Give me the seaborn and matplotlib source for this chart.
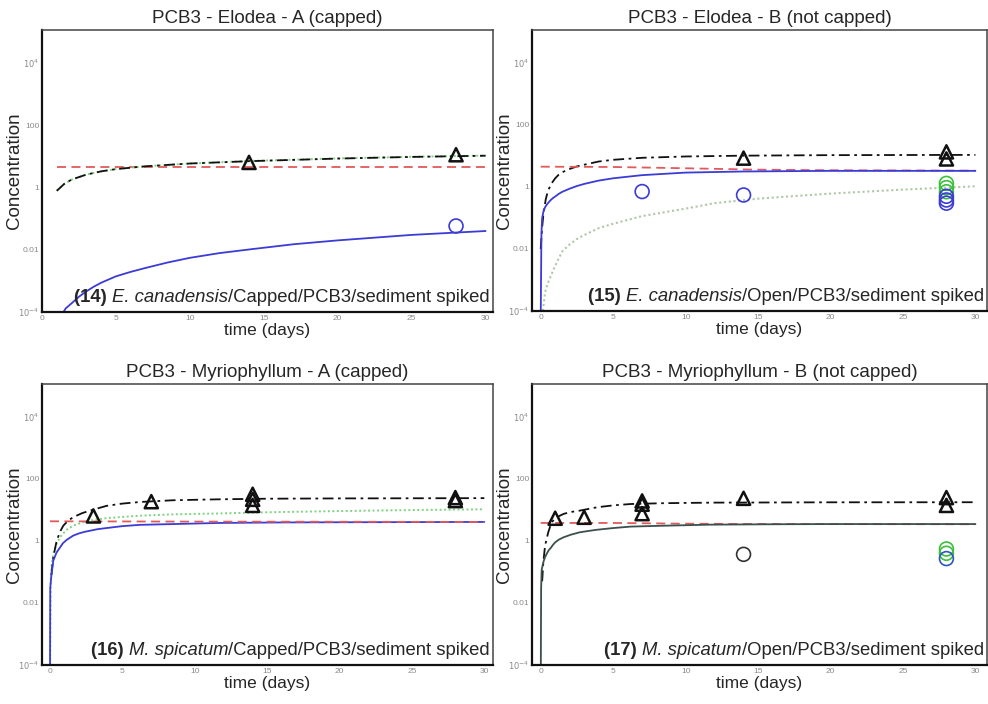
import matplotlib
matplotlib.use("Agg")
import matplotlib.pyplot as plt
import matplotlib.transforms as mtransforms
import seaborn as sns

sns.set_style("white")
plt.rcParams["font.family"] = ["Liberation Sans", "DejaVu Sans"]

# ---------------- data ----------------
# Panel 14: E. canadensis, capped
p14_water_t = [1.0, 30.0]
p14_water_c = [4.4, 4.4]
p14_sed_t = [1.0, 1.5, 2, 3, 4, 5, 7, 10, 14, 20, 25, 30]
p14_sed_c = [0.78, 1.3, 1.8, 2.6, 3.3, 3.9, 4.8, 5.9, 7.0, 8.5, 9.6, 10.5]
p14_pw_t = [1.0, 1.5, 2, 3, 4, 5, 7, 10, 14, 20, 25, 30]
p14_pw_c = [0.8, 1.3, 1.8, 2.6, 3.3, 3.9, 4.8, 5.9, 7.1, 8.6, 9.7, 10.6]
p14_plant_t = [1.4, 1.6, 2, 2.5, 3, 3.5, 4, 5, 6, 7, 8.5, 10, 12, 14, 17, 20, 25, 30]
p14_plant_c = [9e-5, 1.3e-4, 1.9e-4, 3.1e-4, 4.6e-4, 6.5e-4, 8.7e-4, 1.4e-3, 1.95e-3,
               2.6e-3, 3.9e-3, 5.5e-3, 7.8e-3, 0.0102, 0.015, 0.02, 0.03, 0.04]
p14_tri_t = [14, 28]
p14_tri_c = [6.4, 11.3]
p14_circ_blue_t = [28]
p14_circ_blue_c = [0.058]

# Panel 15: E. canadensis, open
p15_water_t = [0, 5, 10, 15, 20, 30]
p15_water_c = [4.5, 4.4, 4.0, 3.6, 3.45, 3.35]
p15_sed_t = [0.0, 0.1, 0.2, 0.35, 0.5, 0.75, 1, 1.25, 1.5, 2, 2.5, 3, 4, 5, 7, 10, 14, 20, 30]
p15_sed_c = [0.01, 0.05, 0.15, 0.4, 0.75, 1.3, 1.9, 2.5, 3.0, 3.8, 4.6, 5.2, 6.6, 7.5,
             8.7, 9.6, 10.2, 10.6, 10.8]
p15_pw_t = [0.08, 0.3, 0.5, 0.87, 1.2, 1.5, 2, 2.5, 3, 4, 5, 7, 10, 12, 15, 20, 25, 30]
p15_pw_c = [5e-5, 4e-4, 8e-4, 2.1e-3, 4.5e-3, 8.5e-3, 0.014, 0.021, 0.028, 0.047, 0.065,
            0.115, 0.2, 0.3, 0.42, 0.61, 0.82, 1.05]
p15_plant_t = [0.0, 0.05, 0.1, 0.2, 0.3, 0.4, 0.55, 0.7, 0.85, 1, 1.25, 1.5, 2, 2.5, 3, 4,
               5, 7, 10, 14, 20, 25, 30]
p15_plant_c = [5e-5, 0.03, 0.1, 0.17, 0.22, 0.26, 0.32, 0.38, 0.44, 0.49, 0.6, 0.7, 0.88,
               1.07, 1.25, 1.6, 1.9, 2.4, 2.9, 3.15, 3.3, 3.3, 3.3]
p15_tri_t = [14, 28, 28]
p15_tri_c = [8.5, 13.5, 8.0]
p15_circ_blue_t = [7, 14, 28, 28, 28]
p15_circ_blue_c = [0.71, 0.55, 0.5, 0.38, 0.3]
p15_circ_green_t = [28, 28, 28]
p15_circ_green_c = [1.3, 0.95, 0.7]

# Panel 16: M. spicatum, capped
p16_water_t = [0, 10, 30]
p16_water_c = [4.3, 4.2, 4.1]
p16_sed_t = [0.1, 0.23, 0.46, 0.7, 0.92, 1.25, 1.6, 2.2, 2.76, 3.9, 5, 6.2, 8.5, 11.7,
             15, 20, 30]
p16_sed_c = [0.08, 0.3, 1.0, 2.0, 3.1, 4.5, 5.8, 7.8, 9.5, 13.5, 16, 18, 20.5, 22, 23,
             23.5, 24]
p16_pw_t = [0.0, 0.05, 0.1, 0.23, 0.45, 0.69, 1.1, 1.6, 2.2, 2.76, 4, 6.2, 8.5, 11.7,
            15, 20, 25, 30]
p16_pw_c = [1e-5, 0.05, 0.15, 0.38, 0.8, 1.3, 2.2, 3.1, 3.9, 4.5, 5.5, 6.5, 7.2, 7.7,
            8.4, 9.2, 9.9, 10.5]
p16_plant_t = [0.0, 0.02, 0.1, 0.23, 0.45, 0.7, 0.9, 1.15, 1.6, 2.0, 2.4, 2.8, 3.3, 3.9,
               5, 6.2, 8.5, 11.7, 16, 20, 30]
p16_plant_c = [1e-5, 0.03, 0.08, 0.23, 0.42, 0.62, 0.85, 1.08, 1.48, 1.75, 1.97, 2.15,
               2.4, 2.6, 3.0, 3.3, 3.5, 3.8, 3.95, 4.0, 4.1]
p16_tri_t = [3, 7, 14, 14, 14, 28, 28]
p16_tri_c = [6.4, 18.5, 32, 22, 14, 25, 20]

# Panel 17: M. spicatum, open
p17_water_t = [0, 5, 10, 15, 30]
p17_water_c = [3.8, 3.8, 3.6, 3.5, 3.45]
p17_sed_t = [0.1, 0.18, 0.3, 0.52, 0.75, 1.1, 1.6, 2.1, 2.7, 3.9, 5, 6.2, 8.5, 12, 20, 30]
p17_sed_c = [0.05, 0.2, 0.7, 1.9, 4.0, 5.8, 7.5, 8.6, 9.5, 12.2, 14.0, 15.5, 16.5, 17.2,
             17.6, 17.7]
p17_plant_t = [0.0, 0.03, 0.07, 0.2, 0.3, 0.41, 0.55, 0.7, 0.85, 1, 1.25, 1.56, 2.1, 2.7,
               3.3, 3.9, 5, 6.2, 8.5, 11.7, 16, 20, 30]
p17_plant_c = [1e-5, 0.03, 0.12, 0.22, 0.3, 0.38, 0.5, 0.6, 0.75, 0.9, 1.1, 1.3, 1.6,
               1.9, 2.1, 2.3, 2.6, 2.9, 3.1, 3.35, 3.45, 3.5, 3.5]
p17_tri_t = [1, 3, 7, 7, 7, 14, 28, 28]
p17_tri_c = [5.4, 5.8, 19.5, 15.3, 7.6, 23.7, 25, 14]
p17_circ_black_t = [14]
p17_circ_black_c = [0.37]
p17_circ_green_t = [28, 28]
p17_circ_green_c = [0.55, 0.4]
p17_circ_blue_t = [28]
p17_circ_blue_c = [0.27]

titles = ["PCB3 - Elodea - A (capped)", "PCB3 - Elodea - B (not capped)",
          "PCB3 - Myriophyllum - A (capped)", "PCB3 - Myriophyllum - B (not capped)"]
panel_nums = ["(14)", "(15)", "(16)", "(17)"]
species = ["E. canadensis", "E. canadensis", "M. spicatum", "M. spicatum"]
treatments = ["/Capped/PCB3/sediment spiked", "/Open/PCB3/sediment spiked",
              "/Capped/PCB3/sediment spiked", "/Open/PCB3/sediment spiked"]
y_ticks = [1e-4, 1e-2, 1, 100, 1e4]
y_ticklabels = [r"$10^{-4}$", "0.01", "1", "100", r"$10^{4}$"]

# ---------------- styles ----------------
C_RED = "#e25a5a"
C_BLUE = "#3b3bd6"
C_GREEN = "#7fd27f"
C_GREEN_PALE = "#aec8a8"
C_BLACK = "#111111"
C_DARK = "#3b4f4c"
DASH = (0, (5, 3))
DASHDOT = (0, (6, 2.5, 1.5, 2.5))
DOT = (0, (1, 1.3))

W, H = 988, 704
fig = plt.figure(figsize=(W / 100, H / 100), dpi=100)


def rect(l, r, t, b):
    return [l / W, 1 - b / H, (r - l) / W, (b - t) / H]


rects = [rect(42, 493, 30, 312), rect(532, 987, 30, 311),
         rect(42, 493, 384, 665), rect(532, 987, 384, 665)]
xlims = [(0.92, 30.5), (-0.6, 30.8), (-0.55, 30.6), (-0.6, 30.8)]
axes = [fig.add_axes(r) for r in rects]


def curve(ax, t, c, color, ls, lw):
    sns.lineplot(x=t, y=c, ax=ax, color=color, linestyle=ls, linewidth=lw,
                 estimator=None, sort=False)


def points(ax, t, c, marker, color, lw=1.4, s=90):
    sns.scatterplot(x=t, y=c, ax=ax, marker=marker, s=s, facecolor="none",
                    edgecolor=color, linewidth=lw, zorder=5)


for ax in axes:
    ax.set_yscale("log")

# panel 14
a = axes[0]
curve(a, p14_water_t, p14_water_c, C_RED, DASH, 1.3)
curve(a, p14_pw_t, p14_pw_c, C_GREEN, DOT, 1.4)
curve(a, p14_sed_t, p14_sed_c, C_BLACK, DASHDOT, 1.3)
curve(a, p14_plant_t, p14_plant_c, C_BLUE, "-", 1.3)
points(a, p14_tri_t, p14_tri_c, "^", C_BLACK, 1.8)
points(a, p14_circ_blue_t, p14_circ_blue_c, "o", C_BLUE, 1.2, 100)

# panel 15
a = axes[1]
curve(a, p15_pw_t, p15_pw_c, C_GREEN_PALE, DOT, 1.5)
curve(a, p15_sed_t, p15_sed_c, C_BLACK, DASHDOT, 1.3)
curve(a, p15_water_t, p15_water_c, C_RED, DASH, 1.3)
curve(a, p15_plant_t, p15_plant_c, C_BLUE, "-", 1.3)
points(a, p15_tri_t, p15_tri_c, "^", C_BLACK, 1.8)
points(a, p15_circ_green_t, p15_circ_green_c, "o", "#3cc03c", 1.2, 100)
points(a, p15_circ_blue_t, p15_circ_blue_c, "o", C_BLUE, 1.2, 100)

# panel 16
a = axes[2]
curve(a, p16_pw_t, p16_pw_c, C_GREEN, DOT, 1.4)
curve(a, p16_sed_t, p16_sed_c, C_BLACK, DASHDOT, 1.3)
curve(a, p16_plant_t, p16_plant_c, C_BLUE, "-", 1.3)
curve(a, p16_water_t, p16_water_c, C_RED, DASH, 1.3)
points(a, p16_tri_t, p16_tri_c, "^", C_BLACK, 1.8)

# panel 17
a = axes[3]
curve(a, p17_water_t, p17_water_c, C_RED, DASH, 1.3)
curve(a, p17_sed_t, p17_sed_c, C_BLACK, DASHDOT, 1.3)
curve(a, p17_plant_t, p17_plant_c, C_DARK, "-", 1.3)
points(a, p17_tri_t, p17_tri_c, "^", C_BLACK, 1.8)
points(a, p17_circ_black_t, p17_circ_black_c, "o", "#333333", 1.2, 100)
points(a, p17_circ_green_t, p17_circ_green_c, "o", "#3cbf3c", 1.2, 100)
points(a, p17_circ_blue_t, p17_circ_blue_c, "o", "#2f55c0", 1.2, 100)

fig.canvas.draw()
renderer = fig.canvas.get_renderer()

for i, ax in enumerate(axes):
    ax.set_xlim(*xlims[i])
    ax.set_ylim(1e-4, 10 ** 5.06)
    ax.set_yticks(y_ticks)
    ax.set_yticklabels(y_ticklabels)
    ax.yaxis.set_minor_locator(matplotlib.ticker.NullLocator())
    ax.set_xticks([0, 5, 10, 15, 20, 25, 30])
    ax.set_xticks(range(0, 31), minor=True)
    ax.tick_params(axis="both", which="major", labelsize=6, labelcolor="#8a8a8a",
                   direction="in", length=3, width=0.8, color="#555555", pad=2)
    ax.tick_params(axis="x", which="minor", direction="in", length=2, width=0.8,
                   color="#777777")
    for side, sp in ax.spines.items():
        sp.set_visible(True)
        sp.set_color("#111111" if side in ("left", "bottom") else "#444444")
        sp.set_linewidth(1.6 if side in ("left", "bottom") else 1.1)
    ax.set_title(titles[i], fontsize=13.5, pad=5)
    ax.set_xlabel("time (days)", fontsize=12.5, labelpad=1)
    ax.set_ylabel("Concentration", fontsize=13.5, va="center")
    ax.yaxis.set_label_coords(-0.06, 0.5)

    # composite label in the lower right: bold number, italic species, plain rest
    x0, y0 = 0.993, 0.035
    t3 = ax.text(x0, y0, treatments[i], transform=ax.transAxes, ha="right",
                 va="baseline", fontsize=13.3)
    w3 = t3.get_window_extent(renderer).width
    tr2 = mtransforms.offset_copy(ax.transAxes, fig=fig, x=-w3, y=0, units="dots")
    t2 = ax.text(x0, y0, species[i], transform=tr2, ha="right", va="baseline",
                 fontsize=13.3, style="italic")
    w2 = t2.get_window_extent(renderer).width
    tr1 = mtransforms.offset_copy(ax.transAxes, fig=fig, x=-w3 - w2, y=0, units="dots")
    ax.text(x0, y0, panel_nums[i] + " ", transform=tr1, ha="right", va="baseline",
            fontsize=13.3, fontweight="bold")

fig.savefig("out.png", dpi=100)
